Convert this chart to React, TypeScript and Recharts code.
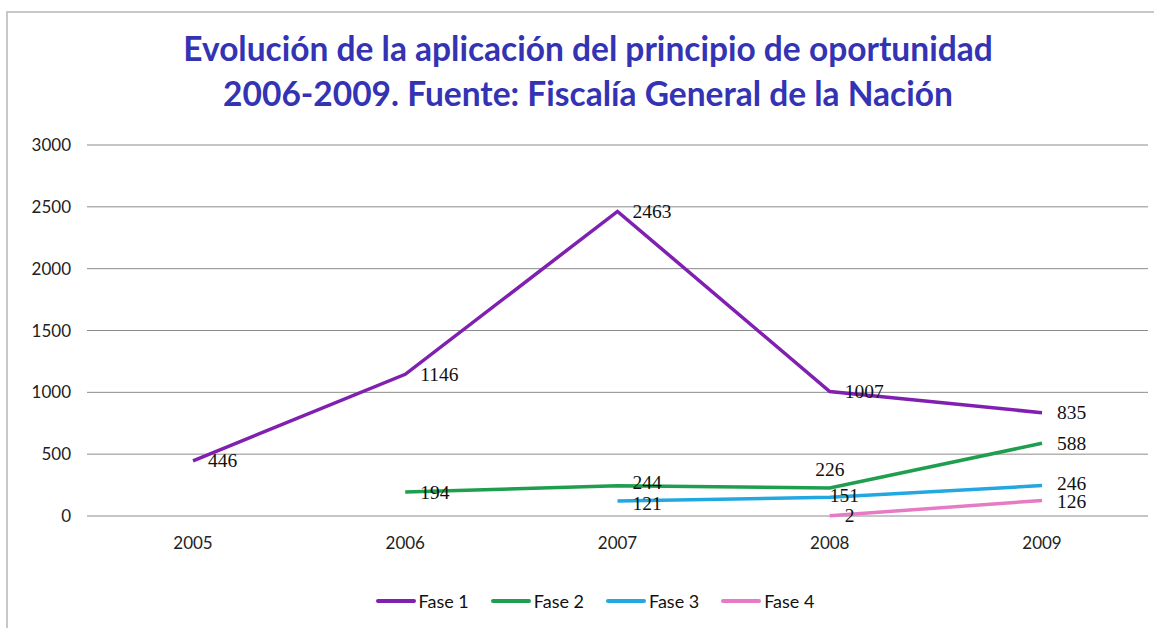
import { LineChart, Line, XAxis, YAxis, CartesianGrid, Legend, LabelList } from 'recharts';

const years = ['2005', '2006', '2007', '2008', '2009'];
const fase1 = [446, 1146, 2463, 1007, 835];
const fase2 = [null, 194, 244, 226, 588];
const fase3 = [null, null, 121, 151, 246];
const fase4 = [null, null, null, 2, 126];
const yTicks = [0, 500, 1000, 1500, 2000, 2500, 3000];

const series = [
  { key: 'fase1', name: 'Fase 1', color: '#8020B0' },
  { key: 'fase2', name: 'Fase 2', color: '#1E9E4E' },
  { key: 'fase3', name: 'Fase 3', color: '#22A8E0' },
  { key: 'fase4', name: 'Fase 4', color: '#E77AC5' },
];

const data = years.map((year, i) => ({
  year,
  fase1: fase1[i],
  fase2: fase2[i],
  fase3: fase3[i],
  fase4: fase4[i],
}));

const makeLabel = (key: string) => (props: any) => {
  const { x, y, value, index } = props;
  if (value == null || x == null) return null;
  let dx = 15;
  let dy = 0;
  let anchor = 'start';
  // a few labels sit elsewhere in the original
  if (key === 'fase2' && index === 3) {
    dx = 0;
    dy = -19;
    anchor = 'middle';
  }
  if (key === 'fase2' && index === 2) dy = -3;
  if (key === 'fase3' && index === 2) dy = 2;
  if (key === 'fase3' && index === 3) {
    dx = 0;
    dy = -2;
  }
  if (key === 'fase3' && index === 4) dy = -2;
  if (key === 'fase4' && index === 4) dy = 1;
  return (
    <text
      x={x + dx}
      y={y + dy}
      textAnchor={anchor}
      dominantBaseline="central"
      fontFamily="'Liberation Serif', serif"
      fontSize={19.5}
      fill="#111"
    >
      {value}
    </text>
  );
};

const renderLegend = () => (
  <div style={{ display: 'flex', justifyContent: 'center', alignItems: 'center', fontFamily: 'Lato, sans-serif', fontSize: 18, color: '#111', paddingLeft: 34 }}>
    {series.map((s, i) => (
      <div key={s.key} style={{ display: 'flex', alignItems: 'center', marginLeft: i === 0 ? 0 : 22 }}>
        <div style={{ width: 40, height: 4, borderRadius: 2, background: s.color }} />
        <span style={{ marginLeft: 3 }}>{s.name}</span>
      </div>
    ))}
  </div>
);

export default function App() {
  return (
    <div
      style={{
        position: 'absolute',
        left: 6,
        top: 11,
        width: 1148,
        height: 617,
        borderLeft: '2px solid #c8c8c8',
        borderTop: '2px solid #c8c8c8',
        background: '#fff',
      }}
    >
      <div
        style={{
          position: 'absolute',
          top: 13,
          left: 6,
          width: 1148,
          textAlign: 'center',
          fontFamily: 'Lato, sans-serif',
          fontWeight: 700,
          fontSize: 33.5,
          lineHeight: '45px',
          color: '#3333B3',
        }}
      >
        Evolución de la aplicación del principio de oportunidad
        <br />
        2006-2009. Fuente: Fiscalía General de la Nación
      </div>
      <LineChart width={1148} height={617} data={data} margin={{ top: 132, right: 8, left: 0, bottom: 74 }}>
        <CartesianGrid vertical={false} stroke="#8c8c8c" />
        <XAxis
          dataKey="year"
          padding={{ left: 106, right: 106 }}
          axisLine={false}
          tickLine={false}
          tickSize={0}
          tickMargin={21}
          height={40}
          tick={{ fontFamily: 'Lato, sans-serif', fontSize: 17, fill: '#222' }}
        />
        <YAxis
          domain={[0, 3000]}
          ticks={yTicks}
          width={79}
          axisLine={false}
          tickLine={false}
          tickSize={0}
          tickMargin={16}
          tick={{ fontFamily: 'Lato, sans-serif', fontSize: 17, fill: '#222' }}
        />
        <Legend
          verticalAlign="middle"
          align="center"
          layout="horizontal"
          content={renderLegend}
          wrapperStyle={{ top: 577 }}
        />
        {series.map((s) => (
          <Line
            key={s.key}
            dataKey={s.key}
            name={s.name}
            stroke={s.color}
            strokeWidth={3.5}
            dot={false}
            type="linear"
            isAnimationActive={false}
          >
            <LabelList dataKey={s.key} content={makeLabel(s.key)} />
          </Line>
        ))}
      </LineChart>
    </div>
  );
}
